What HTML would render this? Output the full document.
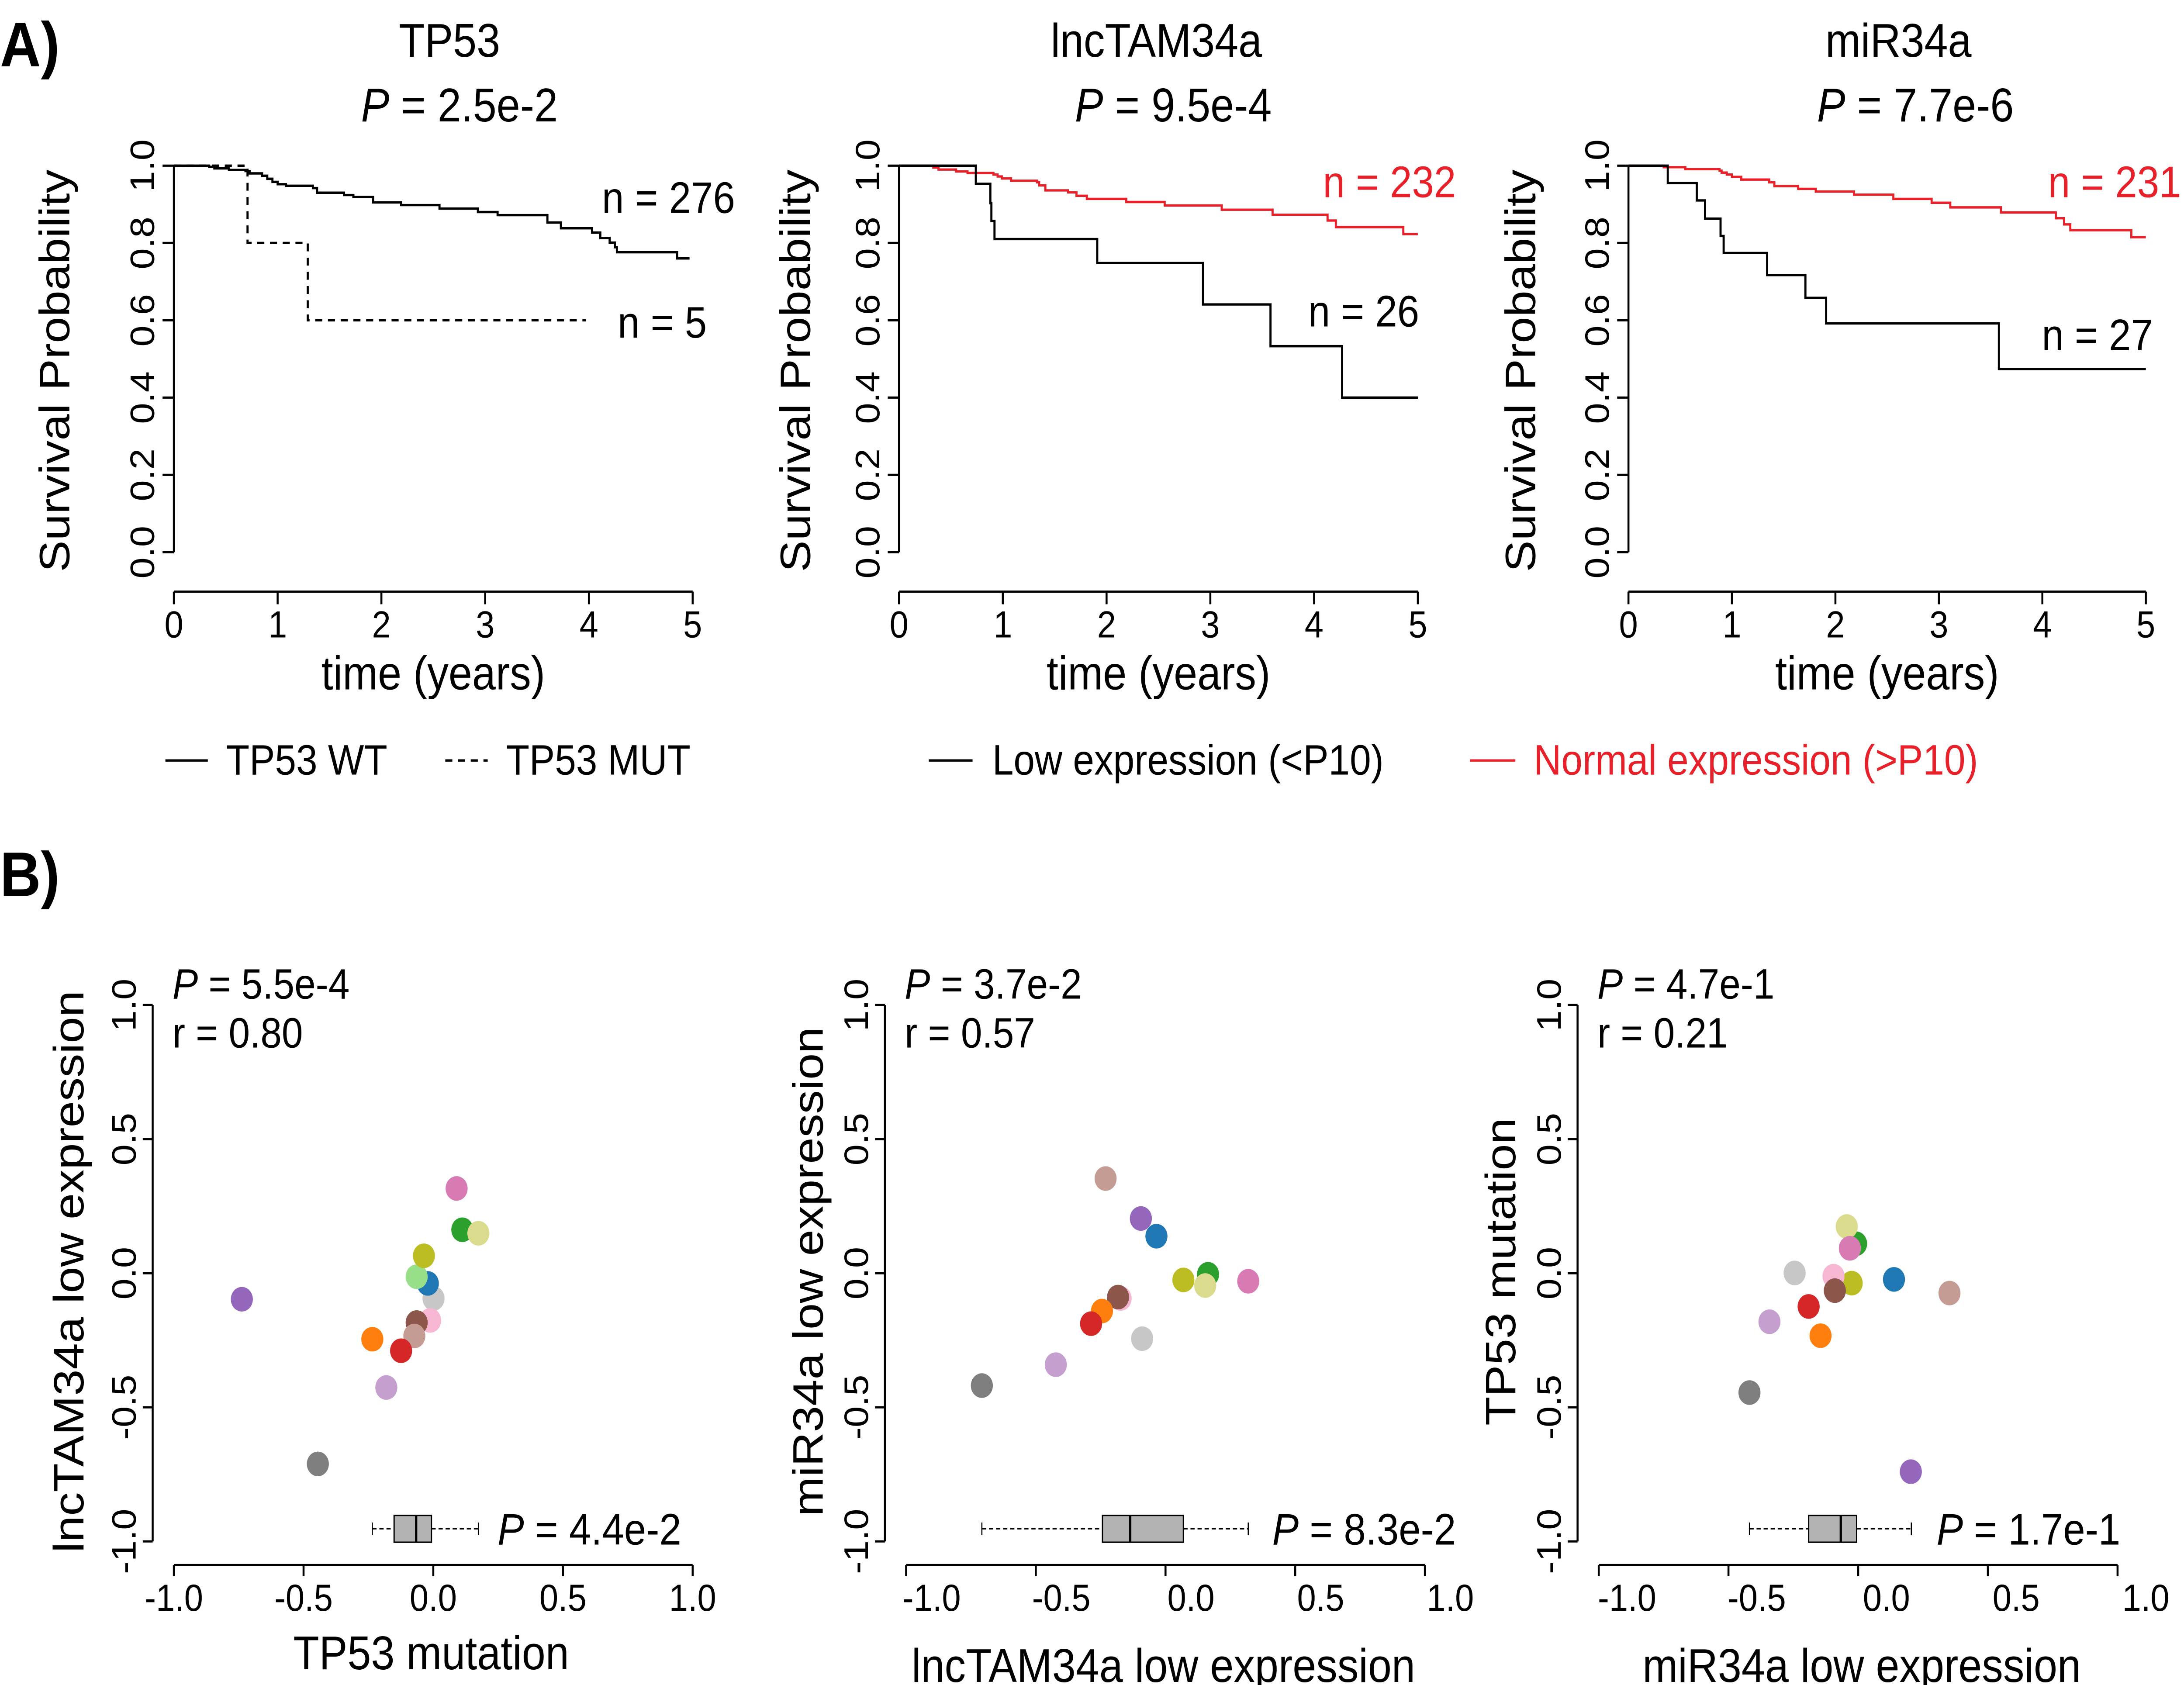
<!DOCTYPE html>
<html><head><meta charset="utf-8"><style>
html,body{margin:0;padding:0;background:#fff;overflow:hidden;width:100%;height:100%;}
svg{display:block;font-family:"Liberation Sans",Arial,sans-serif;width:100vw;height:100vh;}
</style></head><body>
<svg id="fig" viewBox="0 0 1545 1068" preserveAspectRatio="none" xmlns="http://www.w3.org/2000/svg">
<rect x="0" y="0" width="1545" height="1068" fill="#fff"/>
<text x="0" y="42" font-size="40" font-weight="bold">A)</text>
<text x="0" y="568" font-size="40" font-weight="bold">B)</text>
<g font-size="27">
<line x1="117" y1="482" x2="147" y2="482" stroke="#000" stroke-width="1.5"/>
<text x="160" y="491">TP53 WT</text>
<line x1="315" y1="482" x2="345" y2="482" stroke="#000" stroke-width="1.5" stroke-dasharray="5,4"/>
<text x="358" y="491">TP53 MUT</text>
</g>
<g font-size="27">
<line x1="657" y1="482" x2="688" y2="482" stroke="#000" stroke-width="1.5"/>
<text x="702" y="491">Low expression (&lt;P10)</text>
<line x1="1040" y1="482" x2="1072" y2="482" stroke="#e8202a" stroke-width="1.5"/>
<text x="1085" y="491" fill="#e8202a">Normal expression (&gt;P10)</text>
</g>
</svg>
<script>
// ---- Kaplan-Meier data ----
const a1WtTimes=[0.34,0.39,0.53,0.69,0.73,0.85,0.9,0.95,1.0,1.08,1.34,1.38,1.64,1.73,1.92,2.19,2.56,2.93,3.12,3.6,3.73,4.03,4.11,4.2,4.25,4.27,4.85];
const a1WtSurv=[0.997,0.993,0.989,0.986,0.98,0.974,0.966,0.958,0.952,0.948,0.942,0.93,0.924,0.919,0.905,0.898,0.889,0.88,0.872,0.853,0.838,0.827,0.813,0.801,0.789,0.776,0.76];
const a1MutTimes=[0.71,1.29];
const a1MutSurv=[0.8,0.6];
const a2LowTimes=[0.74,0.88,0.89,0.92,1.91,2.93,3.58,4.27];
const a2LowSurv=[0.953,0.903,0.857,0.81,0.748,0.641,0.533,0.40];
const a2NormTimes=[0.33,0.38,0.55,0.66,0.91,0.95,0.99,1.08,1.33,1.35,1.41,1.63,1.71,1.81,2.19,2.56,3.11,3.6,4.13,4.21,4.86];
const a2NormSurv=[0.995,0.99,0.985,0.981,0.977,0.972,0.967,0.961,0.957,0.949,0.936,0.931,0.922,0.914,0.906,0.897,0.886,0.873,0.858,0.841,0.823];
const a3LowTimes=[0.38,0.66,0.74,0.89,0.92,1.34,1.71,1.91,3.58];
const a3LowSurv=[0.955,0.91,0.863,0.818,0.774,0.717,0.658,0.592,0.474];
const a3NormTimes=[0.34,0.55,0.88,0.9,0.95,1.0,1.09,1.36,1.41,1.64,1.81,2.18,2.56,2.93,3.11,3.6,4.13,4.21,4.27,4.86];
const a3NormSurv=[0.996,0.991,0.987,0.982,0.977,0.971,0.964,0.957,0.947,0.94,0.933,0.925,0.914,0.904,0.892,0.879,0.864,0.848,0.833,0.815];
const kmXTicks=[0,1,2,3,4,5];
const kmYTicks=["0.0","0.2","0.4","0.6","0.8","1.0"];
// ---- Scatter data ----
const ptColors=["#c7c7c7","#1f77b4","#98df8a","#bcbd22","#2ca02c","#dbdb8d","#d87ab4","#f7b6d2","#8c564b","#c49c94","#ff7f0e","#d62728","#c5a0cf","#9467bd","#7f7f7f"];
const ptNames=["lightgray","blue","lightgreen","olive","green","lightyellow","pink","lightpink","brown","tan","orange","red","lightpurple","purple","gray"];
const b1X=[0.001,-0.021,-0.064,-0.036,0.112,0.174,0.090,-0.012,-0.064,-0.073,-0.235,-0.124,-0.181,-0.738,-0.445];
const b1Y=[-0.094,-0.038,-0.013,0.065,0.162,0.149,0.316,-0.176,-0.184,-0.234,-0.246,-0.289,-0.426,-0.097,-0.711];
const b2X=[-0.090,-0.035,0.164,0.069,0.164,0.153,0.319,-0.173,-0.183,-0.231,-0.245,-0.287,-0.423,-0.095,-0.708];
const b2Y=[-0.244,0.138,-0.004,-0.025,-0.004,-0.046,-0.030,-0.094,-0.089,0.353,-0.141,-0.188,-0.341,0.204,-0.419];
const b3X=[-0.245,0.138,-0.032,-0.025,-0.008,-0.044,-0.032,-0.095,-0.090,0.352,-0.145,-0.191,-0.342,0.203,-0.419];
const b3Y=[0.001,-0.023,0.093,-0.037,0.110,0.174,0.093,-0.011,-0.065,-0.074,-0.233,-0.124,-0.181,-0.740,-0.445];
const b1Box=[-0.235,-0.151,-0.066,-0.007,0.174];
const b2Box=[-0.708,-0.243,-0.136,0.069,0.319];
const b3Box=[-0.419,-0.191,-0.067,-0.006,0.205];
const scTickVals=[-1,-0.5,0,0.5,1];
const scTickLabels=["-1.0","-0.5","0.0","0.5","1.0"];

const NS="http://www.w3.org/2000/svg";
const svg=document.getElementById('fig');
function el(tag,attrs,parent){const e=document.createElementNS(NS,tag);for(const k in attrs)e.setAttribute(k,attrs[k]);(parent||svg).appendChild(e);return e;}
function pText(parent,x,y,size,rest,anchor,fill){
  const t=el('text',{x:x,y:y,'font-size':size,'text-anchor':anchor||'start',fill:fill||'#000'},parent);
  const p=el('tspan',{'font-style':'italic'},t);p.textContent='P';
  const r=el('tspan',{},t);r.textContent=' = '+rest;
  return t;
}
function stepPath(times,surv,endT,xs,ys){
  let d='M'+xs(0)+','+ys(1);
  for(let i=0;i<times.length;i++){d+=' H'+xs(times[i])+' V'+ys(surv[i]);}
  d+=' H'+xs(endT);return d;
}

const kmPanels=[
 {x0:123,x5:490,title:"TP53",pval:"2.5e-2",tx:318,px:325,series:[[a1WtTimes,a1WtSurv,4.97,'#000','none'],[a1MutTimes,a1MutSurv,3.97,'#000','5,4']],
  labels:[["n = 276",520,135,'end','#000'],["n = 5",500,214,'end','#000']],ylab:49},
 {x0:636,x5:1003,title:"lncTAM34a",pval:"9.5e-4",tx:818,px:830,series:[[a2NormTimes,a2NormSurv,5,'#e8202a','none'],[a2LowTimes,a2LowSurv,5,'#000','none']],
  labels:[["n = 232",1030,125,'end','#e8202a'],["n = 26",1004,207,'end','#000']],ylab:573},
 {x0:1152,x5:1518,title:"miR34a",pval:"7.7e-6",tx:1343,px:1355,series:[[a3NormTimes,a3NormSurv,5,'#e8202a','none'],[a3LowTimes,a3LowSurv,5,'#000','none']],
  labels:[["n = 231",1543,125,'end','#e8202a'],["n = 27",1523,222,'end','#000']],ylab:1086}
];
kmPanels.forEach((P,pi)=>{
  const g=el('g',{});
  
  
  const xs=t=>P.x0+(P.x5-P.x0)*t/5;
  const ys=s=>350-245*s;
  const tt=el('text',{x:P.tx,y:36,'font-size':30,'text-anchor':'middle'},g);tt.textContent=P.title;
  
  
  const pv=pText(g,P.px,77,30,P.pval,'middle');
  
  
  const ya=el('line',{x1:P.x0,y1:ys(0),x2:P.x0,y2:ys(1),stroke:'#000','stroke-width':1.4},g);
  
  
  kmYTicks.forEach((lab,i)=>{
    const v=i*0.2;
    el('line',{x1:P.x0-8,y1:ys(v),x2:P.x0,y2:ys(v),stroke:'#000','stroke-width':1.4},g);
    const t=el('text',{x:P.x0-14,y:ys(v),'font-size':24,'text-anchor':'middle',transform:'rotate(-90 '+(P.x0-14)+' '+ys(v)+')'},g);
    t.textContent=lab;
    
    
  });
  const yl=el('text',{x:P.ylab,y:235,'font-size':30,'text-anchor':'middle',transform:'rotate(-90 '+P.ylab+' 235)'},g);
  yl.textContent='Survival Probability';
  
  
  const xa=el('line',{x1:xs(0),y1:375,x2:xs(5),y2:375,stroke:'#000','stroke-width':1.4},g);
  
  
  kmXTicks.forEach(v=>{
    el('line',{x1:xs(v),y1:375,x2:xs(v),y2:383,stroke:'#000','stroke-width':1.4},g);
    const t=el('text',{x:xs(v),y:404,'font-size':24,'text-anchor':'middle'},g);
    t.textContent=String(v);
    
    
  });
  const xl=el('text',{x:(xs(0)+xs(5))/2,y:437,'font-size':30,'text-anchor':'middle'},g);
  xl.textContent='time (years)';
  
  
  P.series.forEach((S,si)=>{
    const p=el('path',{d:stepPath(S[0],S[1],S[2],xs,ys),fill:'none',stroke:S[3],'stroke-width':1.5,'stroke-dasharray':S[4]},g);
    
    
  });
  P.labels.forEach(L=>{
    const t=el('text',{x:L[1],y:L[2],'font-size':28,'text-anchor':L[3],fill:L[4]},g);
    t.textContent=L[0];
    
    
  });
});

const scPanels=[
 {yaxis:108,xl:123,xr:490,lo:0,xs:b1X,ys:b1Y,box:b1Box,p:"5.5e-4",r:"0.80",bp:"4.4e-2",bpx:352,xt:"TP53 mutation",xtx:305,xty:1058,yt:"lncTAM34a low expression",ytx:59},
 {yaxis:626,xl:641,xr:1008,lo:18,xs:b2X,ys:b2Y,box:b2Box,p:"3.7e-2",r:"0.57",bp:"8.3e-2",bpx:900,xt:"lncTAM34a low expression",xtx:823,xty:1066,yt:"miR34a low expression",ytx:582},
 {yaxis:1116,xl:1131,xr:1498,lo:20,xs:b3X,ys:b3Y,box:b3Box,p:"4.7e-1",r:"0.21",bp:"1.7e-1",bpx:1370,xt:"miR34a low expression",xtx:1317,xty:1066,yt:"TP53 mutation",ytx:1072}
];
scPanels.forEach((P,pi)=>{
  const g=el('g',{});
  
  
  const sx=v=>P.xl+(P.xr-P.xl)*(v+1)/2;
  const sy=v=>807-170*v;
  const ya=el('line',{x1:P.yaxis,y1:sy(-1),x2:P.yaxis,y2:sy(1),stroke:'#000','stroke-width':1.4},g);
  
  
  const xa=el('line',{x1:sx(-1),y1:992,x2:sx(1),y2:992,stroke:'#000','stroke-width':1.4},g);
  
  
  scTickVals.forEach((v,i)=>{
    el('line',{x1:P.yaxis-7,y1:sy(v),x2:P.yaxis,y2:sy(v),stroke:'#000','stroke-width':1.4},g);
    const ty=el('text',{x:P.yaxis-12,y:sy(v),'font-size':24,'text-anchor':'middle',transform:'rotate(-90 '+(P.yaxis-12)+' '+sy(v)+')'},g);
    ty.textContent=scTickLabels[i];
    
    
    el('line',{x1:sx(v),y1:992,x2:sx(v),y2:999,stroke:'#000','stroke-width':1.4},g);
    const tx=el('text',{x:sx(v)+P.lo,y:1021,'font-size':24,'text-anchor':'middle'},g);
    tx.textContent=scTickLabels[i];
    
    
  });
  const xt=el('text',{x:P.xtx,y:P.xty,'font-size':30,'text-anchor':'middle'},g);
  xt.textContent=P.xt;
  
  
  const yt=el('text',{x:P.ytx,y:806,'font-size':30,'text-anchor':'middle',transform:'rotate(-90 '+P.ytx+' 806)'},g);
  yt.textContent=P.yt;
  
  
  const pv=pText(g,P.yaxis+14,633,27,P.p,'start');
  
  
  const rv=el('text',{x:P.yaxis+14,y:664,'font-size':27},g);
  rv.textContent='r = '+P.r;
  
  
  for(let i=0;i<P.xs.length;i++){
    const c=el('circle',{cx:sx(P.xs[i]),cy:sy(P.ys[i]),r:7.8,fill:ptColors[i]},g);
    
    
  }
  const by=sy(-0.953),bh=8.5,B=P.box;
  const bg=el('g',{},g);
  
  
  el('line',{x1:sx(B[0]),y1:by,x2:sx(B[1]),y2:by,stroke:'#000','stroke-width':0.8,'stroke-dasharray':'3,2'},bg);
  el('line',{x1:sx(B[3]),y1:by,x2:sx(B[4]),y2:by,stroke:'#000','stroke-width':0.8,'stroke-dasharray':'3,2'},bg);
  el('line',{x1:sx(B[0]),y1:by-4,x2:sx(B[0]),y2:by+4,stroke:'#000','stroke-width':0.8},bg);
  el('line',{x1:sx(B[4]),y1:by-4,x2:sx(B[4]),y2:by+4,stroke:'#000','stroke-width':0.8},bg);
  el('rect',{x:sx(B[1]),y:by-bh,width:sx(B[3])-sx(B[1]),height:2*bh,fill:'#b3b3b3',stroke:'#000','stroke-width':0.9},bg);
  el('line',{x1:sx(B[2]),y1:by-bh,x2:sx(B[2]),y2:by+bh,stroke:'#000','stroke-width':1.6},bg);
  const bp=pText(g,P.bpx,979,28,P.bp,'start');
  
  
});
</script>
</body></html>
